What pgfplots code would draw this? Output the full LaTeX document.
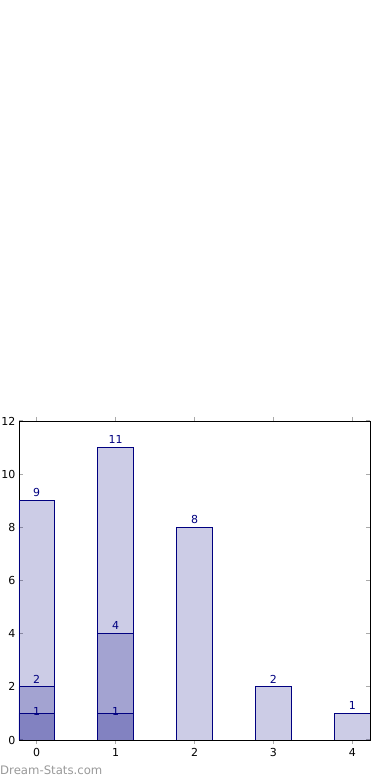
\documentclass[border=0pt]{standalone}
\usepackage{pgfplots}
\pgfplotsset{compat=1.18}
\usepackage{fontspec}
\setmainfont{DejaVu Sans}
\definecolor{navyb}{HTML}{000080}
\definecolor{tickg}{HTML}{AAAAAA}
\begin{document}
\begin{tikzpicture}[x=1pt,y=1pt]
\useasboundingbox (0,0) rectangle (390,780);
\begin{axis}[
  at={(19pt,40pt)}, anchor=south west,
  scale only axis, width=351pt, height=319pt,
  xmin=-0.225, xmax=4.225, ymin=0, ymax=12,
  xtick={0,1,2,3,4}, ytick={0,2,4,6,8,10,12},
  tick align=inside, major tick length=4pt,
  tick style={tickg, line width=1pt},
  axis line style={black, line width=0.8pt},
  ticklabel style={font=\fontsize{11}{12}\selectfont},
  /pgf/number format/assume math mode=true,
  xticklabel style={yshift=-1pt},
  ybar, bar width=0.45, bar shift=0pt,
  nodes near coords,
  every node near coord/.append style={font=\fontsize{11}{12}\selectfont, text=navyb, text opacity=1, fill opacity=1, yshift=0pt},
]
\addplot[draw=navyb, fill=navyb, fill opacity=0.2, line width=0.8pt] coordinates {(0,9) (1,11) (2,8) (3,2) (4,1)};
\addplot[draw=navyb, fill=navyb, fill opacity=0.2, line width=0.8pt] coordinates {(0,2) (1,4)};
\addplot[draw=navyb, fill=navyb, fill opacity=0.2, line width=0.8pt,
  every node near coord/.append style={anchor=center, yshift=1.5pt}] coordinates {(0,1) (1,1)};
\end{axis}
\node[anchor=west, text=gray!80, font=\fontsize{11.7}{12}\selectfont, inner sep=0pt] at (0,10) {Dream-Stats.com};
\end{tikzpicture}
\end{document}
